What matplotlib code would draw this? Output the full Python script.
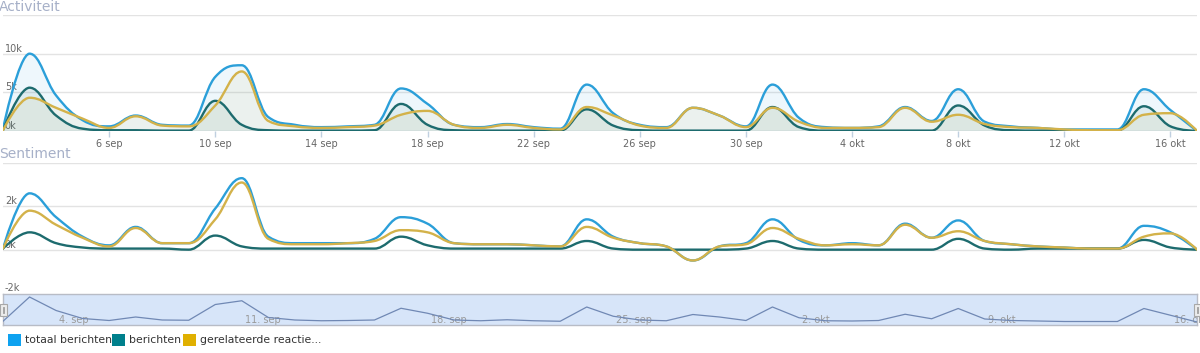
import datetime
import numpy as np
import matplotlib
matplotlib.use("Agg")
import matplotlib.pyplot as plt
import matplotlib.dates as mdates
from matplotlib.path import Path
from matplotlib.patches import PathPatch, Rectangle

# dagen 2 sep - 17 okt
start = datetime.date(2013, 9, 2)
dates = [start + datetime.timedelta(days=i) for i in range(46)]

# Activiteit (aantallen)
act_totaal = [300, 10000, 4600, 1400, 600, 2000, 800, 700, 7000, 8500,
              1800, 800, 500, 600, 800, 5500, 3500, 800, 500, 900,
              500, 300, 6000, 2300, 800, 500, 3000, 2000, 600, 6000,
              1700, 500, 400, 600, 3100, 1300, 5400, 1200, 600, 400,
              200, 200, 200, 5400, 2700, 0]
act_berichten = [100, 5600, 2000, 300, 100, 100, 50, 50, 3900, 800,
                 100, 50, 50, 50, 100, 3500, 800, 100, 50, 50,
                 50, 50, 2800, 700, 100, 50, 50, 50, 50, 3100,
                 500, 50, 50, 50, 50, 50, 3300, 700, 100, 50,
                 50, 50, 50, 3200, 600, 0]
act_reacties = [100, 4300, 3000, 1600, 400, 1900, 700, 600, 3300, 7700,
                1300, 600, 400, 500, 700, 2100, 2600, 800, 400, 800,
                400, 200, 3100, 2000, 700, 400, 3000, 2000, 500, 3000,
                1200, 400, 400, 500, 3000, 1200, 2100, 900, 500, 400,
                200, 100, 100, 2100, 2300, 0]

# Sentiment
sen_totaal = [50, 2600, 1500, 600, 200, 1050, 300, 300, 1900, 3300,
              600, 300, 300, 300, 500, 1500, 1200, 300, 250, 250,
              200, 150, 1400, 600, 300, 150, -500, 150, 300, 1400,
              450, 200, 300, 200, 1200, 550, 1350, 400, 250, 150,
              100, 50, 50, 1100, 800, 0]
sen_berichten = [50, 800, 300, 100, 50, 50, 50, 0, 650, 150,
                 50, 50, 50, 50, 50, 600, 200, 50, 50, 50,
                 50, 50, 400, 50, 0, 0, 0, 0, 50, 400,
                 50, 0, 0, 0, 0, 0, 500, 50, 0, 50,
                 50, 50, 50, 450, 100, 0]
sen_reacties = [50, 1800, 1150, 550, 150, 1000, 300, 300, 1400, 3100,
                500, 250, 250, 300, 400, 900, 800, 300, 250, 250,
                200, 150, 1050, 550, 300, 150, -500, 150, 250, 1000,
                500, 200, 250, 200, 1150, 550, 850, 400, 250, 150,
                100, 50, 50, 600, 750, 0]

series_names = ["totaal berichten", "berichten", "gerelateerde reactie..."]
line_colors = ["#2b9fd9", "#1d6b6e", "#d3b24a"]
legend_colors = ["#0ea2f0", "#00808c", "#e0b000"]

MONTHS = {9: "sep", 10: "okt"}

W, H = 1200, 353
fig = plt.figure(figsize=(W / 100, H / 100), dpi=100)


def px_axes(left, top, right, bottom):
    return fig.add_axes([left / W, 1 - bottom / H, (right - left) / W, (bottom - top) / H])


def spline_path(x, y, close_to=None):
    # Highcharts-achtige spline door de punten
    x = np.asarray(x, float)
    y = np.asarray(y, float)
    n = len(x)
    lc = [(x[i], y[i]) for i in range(n)]
    rc = [(x[i], y[i]) for i in range(n)]
    s, d = 1.5, 2.5
    for i in range(1, n - 1):
        px, py = x[i], y[i]
        lx, ly, nx, ny = x[i - 1], y[i - 1], x[i + 1], y[i + 1]
        lcx, lcy = (s * px + lx) / d, (s * py + ly) / d
        rcx, rcy = (s * px + nx) / d, (s * py + ny) / d
        corr = (rcy - lcy) * (rcx - px) / (rcx - lcx) + py - rcy
        lcy += corr
        rcy += corr
        if lcy > ly and lcy > py:
            lcy = max(ly, py)
            rcy = 2 * py - lcy
        elif lcy < ly and lcy < py:
            lcy = min(ly, py)
            rcy = 2 * py - lcy
        if rcy > ny and rcy > py:
            rcy = max(ny, py)
            lcy = 2 * py - rcy
        elif rcy < ny and rcy < py:
            rcy = min(ny, py)
            lcy = 2 * py - rcy
        lc[i] = (lcx, lcy)
        rc[i] = (rcx, rcy)
    verts = [(x[0], y[0])]
    codes = [Path.MOVETO]
    for i in range(1, n):
        verts += [rc[i - 1], lc[i], (x[i], y[i])]
        codes += [Path.CURVE4] * 3
    if close_to is not None:
        verts += [(x[-1], close_to), (x[0], close_to), (x[0], close_to)]
        codes += [Path.LINETO, Path.LINETO, Path.CLOSEPOLY]
    return Path(verts, codes)


xd = mdates.date2num(dates)


def style_pane(ax, ymin, ymax, grid, labels):
    ax.set_xlim(xd[0], xd[-1])
    ax.set_ylim(ymin, ymax)
    for sp in ax.spines.values():
        sp.set_visible(False)
    ax.set_yticks([])
    ax.patch.set_alpha(0)
    for g in grid:
        ax.axhline(g, color="#e3e3e3", lw=1, zorder=0)
    tr = ax.get_yaxis_transform()
    for v, lab in labels:
        ax.text(0.0015, v, lab, transform=tr, fontsize=7, color="#666666",
                ha="left", va="bottom", zorder=1)


# Activiteit
ax1 = px_axes(3, 15, 1197, 131)
style_pane(ax1, 0, 15000, [5000, 10000, 15000],
           [(0, "0k"), (5000, "5k"), (10000, "10k")])
for vals, col in zip([act_totaal, act_berichten, act_reacties], line_colors):
    ax1.add_patch(PathPatch(spline_path(xd, vals, close_to=0), facecolor=col,
                            edgecolor="none", alpha=0.08, zorder=2))
for vals, col in zip([act_totaal, act_berichten, act_reacties], line_colors):
    ax1.add_patch(PathPatch(spline_path(xd, vals), facecolor="none",
                            edgecolor=col, lw=1.7, zorder=3, capstyle="round",
                            joinstyle="round"))
ax1.axhline(0, color="#c8d0e0", lw=1, zorder=1)
tick_days = dates[4::4]
ax1.set_xticks(mdates.date2num(tick_days))
ax1.set_xticklabels([f"{d.day} {MONTHS[d.month]}" for d in tick_days])
ax1.tick_params(axis="x", length=4, width=1, color="#c0d0e0", labelsize=7,
                labelcolor="#666666", pad=2)

# Sentiment
ax2 = px_axes(3, 163, 1197, 293)
style_pane(ax2, -2000, 4000, [2000, 4000, 0],
           [(-2000, "-2k"), (0, "0k"), (2000, "2k")])
for vals, col in zip([sen_totaal, sen_berichten, sen_reacties], line_colors):
    ax2.add_patch(PathPatch(spline_path(xd, vals), facecolor="none",
                            edgecolor=col, lw=1.7, zorder=3, capstyle="round",
                            joinstyle="round"))
ax2.set_xticks([])

# Navigator
ax3 = px_axes(3, 294, 1197, 325)
ax3.set_xlim(xd[0], xd[-1])
ax3.set_ylim(-1200, 11200)
ax3.set_facecolor("#d7e5f9")
for sp in ax3.spines.values():
    sp.set_color("#b8bcc6")
    sp.set_linewidth(1)
ax3.plot(xd, act_totaal, color="#7088b4", lw=0.9, zorder=3)
nav_days = dates[2::7]
ax3.set_yticks([])
ax3.set_xticks([])
for d in nav_days:
    x = mdates.date2num(d)
    ax3.text(x + 0.12, 900, f"{d.day}. {MONTHS[d.month]}", fontsize=7,
             color="#9a9a9a", ha="left", va="center", zorder=2)

# schuifgrepen
for hx in (0, 1194):
    fig.patches.append(Rectangle((hx / W, 1 - 316 / H), 7 / W, 12 / H,
                                 transform=fig.transFigure, facecolor="#ececec",
                                 edgecolor="#a8a8a8", lw=0.8, zorder=5))
    for lx in (hx + 2.6, hx + 4.4):
        fig.lines.append(plt.Line2D([lx / W, lx / W], [1 - 313 / H, 1 - 307 / H],
                                    transform=fig.transFigure, color="#999999",
                                    lw=0.6, zorder=6))

# Titels
fig.text(-1 / W, 1 - 7 / H, "Activiteit", fontsize=10, color="#a6b0c8",
         ha="left", va="center")
fig.text(-1 / W, 1 - 154 / H, "Sentiment", fontsize=10, color="#a6b0c8",
         ha="left", va="center")

# Legenda
leg_x = [8, 112, 183]
for lx, name, col in zip(leg_x, series_names, legend_colors):
    fig.patches.append(Rectangle((lx / W, 1 - 346 / H), 13 / W, 12 / H,
                                 transform=fig.transFigure, facecolor=col,
                                 edgecolor="none"))
    fig.text((lx + 17) / W, 1 - 340 / H, name, fontsize=7.8, color="#333333",
             ha="left", va="center")

fig.savefig("out.png", dpi=100)
